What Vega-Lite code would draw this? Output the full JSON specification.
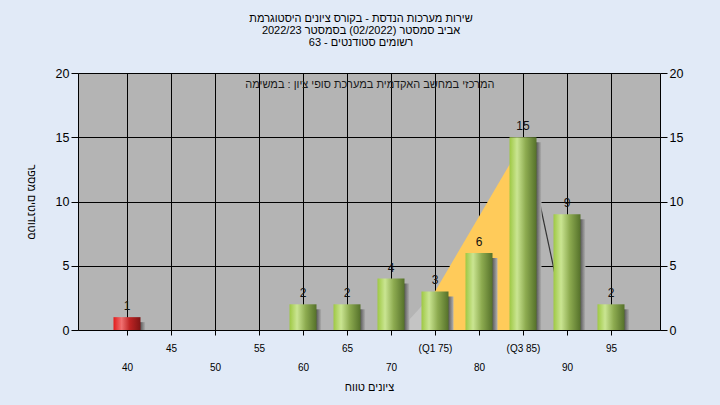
{
  "$schema": "https://vega.github.io/schema/vega-lite/v6.json",
  "autosize": "none",
  "width": 582,
  "height": 257,
  "padding": {"left": 78, "top": 73, "right": 60, "bottom": 75},
  "background": "#e1eaf7",
  "config": {
    "font": "Liberation Sans",
    "view": {"fill": "#b4b4b4", "stroke": null}
  },
  "title": {
    "text": ["שירות מערכות הנדסת - בקורס ציונים היסטוגרמת", "2022/23 אביב סמסטר  (02/2022)  בסמסטר", "63 - רשומים סטודנטים"],
    "fontSize": 11,
    "fontWeight": "normal",
    "color": "#000000",
    "anchor": "middle",
    "lineHeight": 12,
    "offset": 19,
    "dx": -8
  },
  "datasets": {
    "bars": [
      {"score": 40, "n": 1},
      {"score": 45, "n": 0},
      {"score": 50, "n": 0},
      {"score": 55, "n": 0},
      {"score": 60, "n": 2},
      {"score": 65, "n": 2},
      {"score": 70, "n": 4},
      {"score": 75, "n": 3},
      {"score": 80, "n": 6},
      {"score": 85, "n": 15},
      {"score": 90, "n": 9},
      {"score": 95, "n": 2}
    ],
    "grayArea": [{"score": 71, "n": 0}, {"score": 75, "n": 3}],
    "yellowArea": [{"score": 75, "n": 3}, {"score": 85.3, "n": 15}],
    "whisker": [{"score": 85.3, "n": 15}, {"score": 90, "n": 0}],
    "note": [{"score": 67.6, "n": 19.05, "label": "המרכזי במחשב האקדמית במערכת סופי ציון : במשימה"}]
  },
  "resolve": {"axis": {"y": "independent"}},
  "layer": [
    {
      "data": {"name": "grayArea"},
      "mark": {"type": "area", "color": "#c4c4c4"},
      "encoding": {
        "x": {
          "field": "score", "type": "quantitative",
          "scale": {"domain": [35, 100], "nice": false, "zero": false},
          "axis": {
            "values": [40, 45, 50, 55, 60, 65, 70, 75, 80, 85, 90, 95],
            "grid": true, "gridColor": "#000000", "gridOpacity": 1, "gridWidth": 1,
            "domainColor": "#000000", "tickColor": "#000000", "tickSize": 5,
            "labelFontSize": 10, "labelColor": "#000000", "labelPadding": 8,
            "labelBaseline": "top", "labelLineHeight": 19, "labelFlush": false, "labelOverlap": false,
            "labelExpr": "datum.value == 75 ? '(Q1 75)' : datum.value == 85 ? '(Q3 85)' : datum.value % 10 == 0 ? ['', datum.label] : datum.label",
            "title": "ציונים טווח", "titleFontSize": 11, "titleFontWeight": "normal", "titleColor": "#000000", "titlePadding": 9
          }
        },
        "y": {
          "field": "n", "type": "quantitative",
          "scale": {"domain": [0, 20]},
          "axis": {
            "values": [0, 5, 10, 15, 20],
            "grid": true, "gridColor": "#000000", "gridOpacity": 1,
            "domainColor": "#000000", "tickColor": "#000000", "tickSize": 7,
            "labelFontSize": 12.5, "labelColor": "#000000", "labelPadding": 2,
            "title": "סטודנטים מספר", "titleAngle": 90, "titleFontSize": 11, "titleFontWeight": "normal", "titleColor": "#000000", "titlePadding": 30
          }
        }
      }
    },
    {
      "data": {"name": "yellowArea"},
      "mark": {"type": "area", "color": "#ffcb5a"},
      "encoding": {
        "x": {"field": "score", "type": "quantitative"},
        "y": {"field": "n", "type": "quantitative", "axis": null}
      }
    },
    {
      "data": {"name": "whisker"},
      "mark": {"type": "line", "color": "#333333", "strokeWidth": 1.2},
      "encoding": {
        "x": {"field": "score", "type": "quantitative"},
        "y": {"field": "n", "type": "quantitative", "axis": null}
      }
    },
    {
      "data": {"name": "bars"},
      "transform": [{"filter": "datum.n > 0"}],
      "mark": {
        "type": "bar", "width": 27, "xOffset": 5, "yOffset": 5, "clip": true,
        "color": {"gradient": "linear", "x1": 0, "y1": 0, "x2": 1, "y2": 0,
          "stops": [{"offset": 0, "color": "#4a4a4a"}, {"offset": 0.8, "color": "#555555"}, {"offset": 1, "color": "#b2b2b2"}]}
      },
      "encoding": {
        "x": {"field": "score", "type": "quantitative"},
        "y": {"field": "n", "type": "quantitative", "axis": null}
      }
    },
    {
      "data": {"name": "bars"},
      "transform": [{"filter": "datum.score >= 55 && datum.n > 0"}],
      "mark": {
        "type": "bar", "width": 27,
        "color": {"gradient": "linear", "x1": 0, "y1": 0, "x2": 1, "y2": 0,
          "stops": [{"offset": 0, "color": "#9ec843"}, {"offset": 0.28, "color": "#cae592"}, {"offset": 0.6, "color": "#8dab50"}, {"offset": 1, "color": "#55712a"}]}
      },
      "encoding": {
        "x": {"field": "score", "type": "quantitative"},
        "y": {"field": "n", "type": "quantitative", "axis": null}
      }
    },
    {
      "data": {"name": "bars"},
      "transform": [{"filter": "datum.score < 55 && datum.n > 0"}],
      "mark": {
        "type": "bar", "width": 27,
        "color": {"gradient": "linear", "x1": 0, "y1": 0, "x2": 1, "y2": 0,
          "stops": [{"offset": 0, "color": "#e21b1b"}, {"offset": 0.3, "color": "#f07070"}, {"offset": 0.6, "color": "#bf2424"}, {"offset": 1, "color": "#7e1414"}]}
      },
      "encoding": {
        "x": {"field": "score", "type": "quantitative"},
        "y": {"field": "n", "type": "quantitative", "axis": null}
      }
    },
    {
      "data": {"name": "note"},
      "mark": {"type": "text", "fontSize": 11, "color": "#1a1a1a", "align": "center", "baseline": "middle"},
      "encoding": {
        "x": {"field": "score", "type": "quantitative"},
        "y": {"field": "n", "type": "quantitative", "axis": null},
        "text": {"field": "label"}
      }
    },
    {
      "data": {"name": "bars"},
      "transform": [{"filter": "datum.n > 0"}],
      "mark": {"type": "text", "fontSize": 12, "color": "#111111", "align": "center", "baseline": "alphabetic", "dy": -7},
      "encoding": {
        "x": {"field": "score", "type": "quantitative"},
        "y": {
          "field": "n", "type": "quantitative",
          "axis": {
            "orient": "right", "values": [0, 5, 10, 15, 20], "grid": false,
            "domainColor": "#000000", "tickColor": "#000000", "tickSize": 7,
            "labelFontSize": 12.5, "labelColor": "#000000", "labelPadding": 2, "title": null
          }
        },
        "text": {"field": "n"}
      }
    }
  ]
}
